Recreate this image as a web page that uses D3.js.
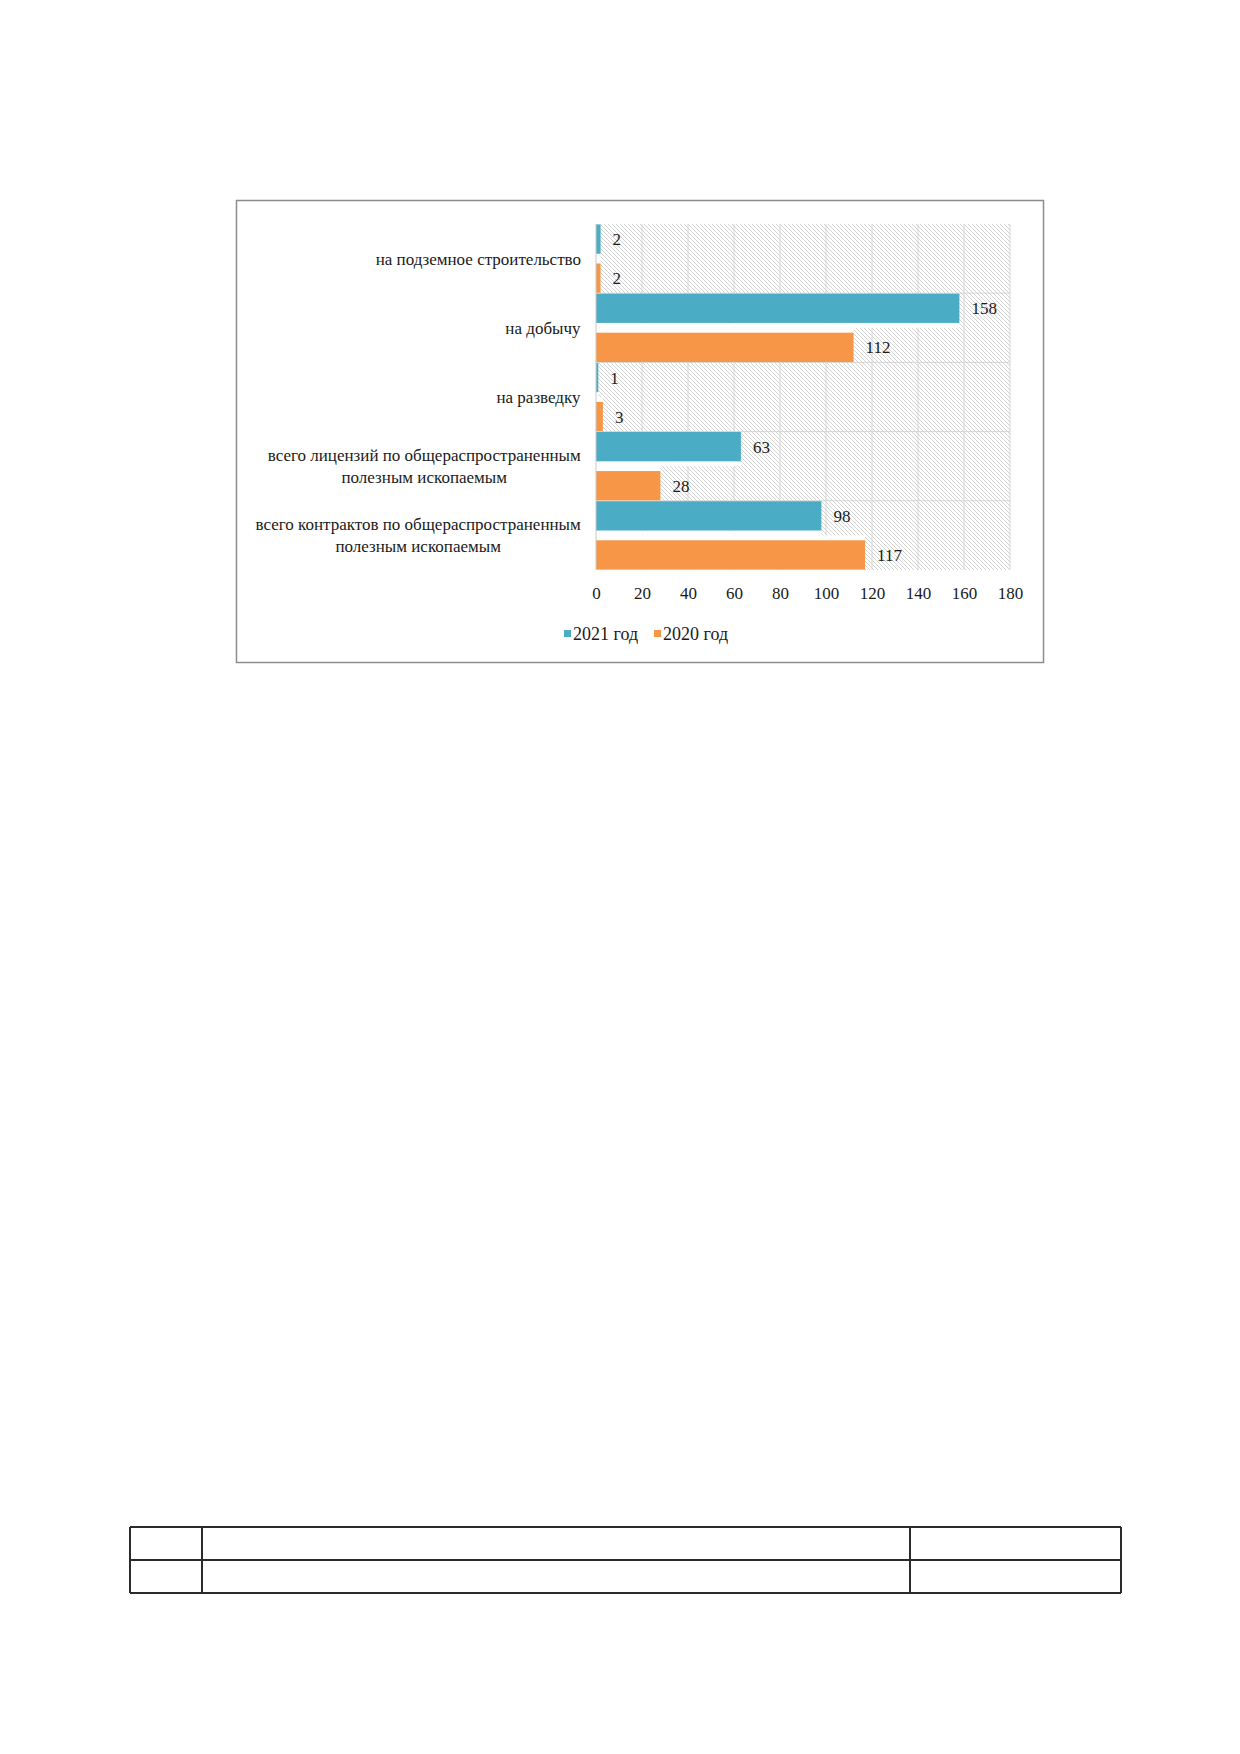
<!DOCTYPE html>
<html>
<head>
<meta charset="utf-8">
<script src="https://cdn.jsdelivr.net/npm/d3@7"></script>
<style>
  body { margin: 0; background: #fff; }
  text { font-family: "Liberation Serif", "Times New Roman", serif; fill: #1a1a1a; }
</style>
</head>
<body>
<svg width="1240" height="1754"></svg>
<script>
// chart data
const categories = [
    ["на подземное строительство"],
    ["на добычу"],
    ["на разведку"],
    ["всего лицензий по общераспространенным", "полезным ископаемым"],
    ["всего контрактов по общераспространенным", "полезным ископаемым"]
];
const seriesNames = ["2021 год", "2020 год"];
const values2021 = [2, 158, 1, 63, 98];
const values2020 = [2, 112, 3, 28, 117];
const xTicks = [0, 20, 40, 60, 80, 100, 120, 140, 160, 180];
const colors = ["#4BACC6", "#F79646"];

const svg = d3.select("svg");

svg.append("rect").attr("width", 1240).attr("height", 1754).attr("fill", "#fff");

// hatch for plot area
const defs = svg.append("defs");
defs.append("pattern")
    .attr("id", "hatch")
    .attr("patternUnits", "userSpaceOnUse")
    .attr("width", 4).attr("height", 4)
  .append("path")
    .attr("d", "M-1,-1 L5,5 M3,-1 L5,1 M-1,3 L1,5")
    .attr("stroke", "#cfcfcf")
    .attr("stroke-width", 0.9);

// chart frame
svg.append("rect")
    .attr("x", 236.5).attr("y", 200.5)
    .attr("width", 807).attr("height", 462)
    .attr("fill", "none")
    .attr("stroke", "#8c8c8c")
    .attr("stroke-width", 1.5);

const x = d3.scaleLinear().domain([0, 180]).range([596, 1010]);
const keys = categories.map((c, i) => i);
const y0 = d3.scaleBand().domain(keys).range([224, 570]).padding(0);
const y1 = d3.scaleBand().domain(seriesNames).range([0, y0.bandwidth()])
    .paddingInner(0.25).paddingOuter(0.01);

const plotTop = y0.range()[0], plotBottom = y0.range()[1];

// plot background
svg.append("rect")
    .attr("x", x(0)).attr("y", plotTop)
    .attr("width", x(180) - x(0)).attr("height", plotBottom - plotTop)
    .attr("fill", "url(#hatch)");

// grid lines
svg.append("g")
    .selectAll("line")
    .data(xTicks.slice(1))
    .join("line")
      .attr("x1", d => x(d)).attr("x2", d => x(d))
      .attr("y1", plotTop).attr("y2", plotBottom)
      .attr("stroke", "#d6d6d6");

svg.append("g")
    .selectAll("line")
    .data(keys.slice(1))
    .join("line")
      .attr("x1", x(0)).attr("x2", x(180))
      .attr("y1", d => y0(d)).attr("y2", d => y0(d))
      .attr("stroke", "#d6d6d6");

// bars
const rows = keys.map(i => ({ i: i, vals: [values2021[i], values2020[i]] }));
const gap = y1.step() * y1.paddingInner();

const groups = svg.append("g")
    .selectAll("g")
    .data(rows)
    .join("g")
      .attr("transform", d => `translate(0,${y0(d.i)})`);

const bars = groups.selectAll("g")
    .data(d => d.vals.map((v, s) => ({ v: v, s: s, name: seriesNames[s] })))
    .join("g");

// white gap between the two bars of a group
bars.append("rect")
    .attr("x", x(0))
    .attr("y", d => d.s === 0 ? y1(d.name) : y1(d.name) - gap / 2)
    .attr("width", d => x(d.v) - x(0))
    .attr("height", y1.bandwidth() + gap / 2)
    .attr("fill", "#fff");

bars.append("rect")
    .attr("x", x(0))
    .attr("y", d => y1(d.name))
    .attr("width", d => x(d.v) - x(0))
    .attr("height", y1.bandwidth())
    .attr("fill", d => colors[d.s]);

bars.append("text")
    .attr("x", d => x(d.v) + 12)
    .attr("y", d => y1(d.name) + y1.bandwidth() / 2)
    .attr("dy", "0.36em")
    .style("font-size", "17px")
    .text(d => d.v);

// value axis line
svg.append("line")
    .attr("x1", x(0)).attr("x2", x(0))
    .attr("y1", plotTop).attr("y2", plotBottom)
    .attr("stroke", "#c8c8c8");

// x axis
const xAxis = svg.append("g")
    .attr("transform", `translate(0,${plotBottom})`)
    .call(d3.axisBottom(x).tickValues(xTicks).tickSize(0).tickPadding(17));
xAxis.select(".domain").remove();
xAxis.selectAll("text")
    .style("font-family", "'Liberation Serif', 'Times New Roman', serif")
    .style("font-size", "17px")
    .attr("fill", "#1a1a1a");

// category labels, multi-line centred, right edge aligned
const catLabels = svg.append("g")
    .selectAll("text")
    .data(rows)
    .join("text")
      .attr("text-anchor", "middle")
      .style("font-size", "17px");

catLabels.each(function(d) {
    const lines = categories[d.i];
    const t = d3.select(this);
    const cy = y0(d.i) + y0.bandwidth() / 2;
    const lh = 22;
    lines.forEach((ln, k) => {
        t.append("tspan")
            .attr("x", 0)
            .attr("y", cy + (k - (lines.length - 1) / 2) * lh)
            .attr("dy", "0.35em")
            .text(ln);
    });
    const bb = this.getBBox();
    t.attr("transform", `translate(${581 - bb.x - bb.width},0)`);
});

// legend
const legend = svg.append("g");
let lx = 564;
seriesNames.forEach((name, s) => {
    legend.append("rect")
        .attr("x", lx).attr("y", 630)
        .attr("width", 7).attr("height", 7)
        .attr("fill", colors[s]);
    const t = legend.append("text")
        .attr("x", lx + 9)
        .attr("y", 640)
        .style("font-size", "18px")
        .text(name);
    lx += 9 + t.node().getComputedTextLength() + 16;
});

// empty table at page bottom
const tableCols = [130, 202, 910, 1121];
const tableRows = [1527, 1560, 1593];
const table = svg.append("g")
    .attr("stroke", "#2b2b2b")
    .attr("stroke-width", 2);
table.selectAll(".h")
    .data(tableRows)
    .join("line")
      .attr("x1", tableCols[0]).attr("x2", tableCols[tableCols.length - 1])
      .attr("y1", d => d).attr("y2", d => d);
table.selectAll(".v")
    .data(tableCols)
    .join("line")
      .attr("x1", d => d).attr("x2", d => d)
      .attr("y1", tableRows[0]).attr("y2", tableRows[tableRows.length - 1]);
</script>
</body>
</html>
